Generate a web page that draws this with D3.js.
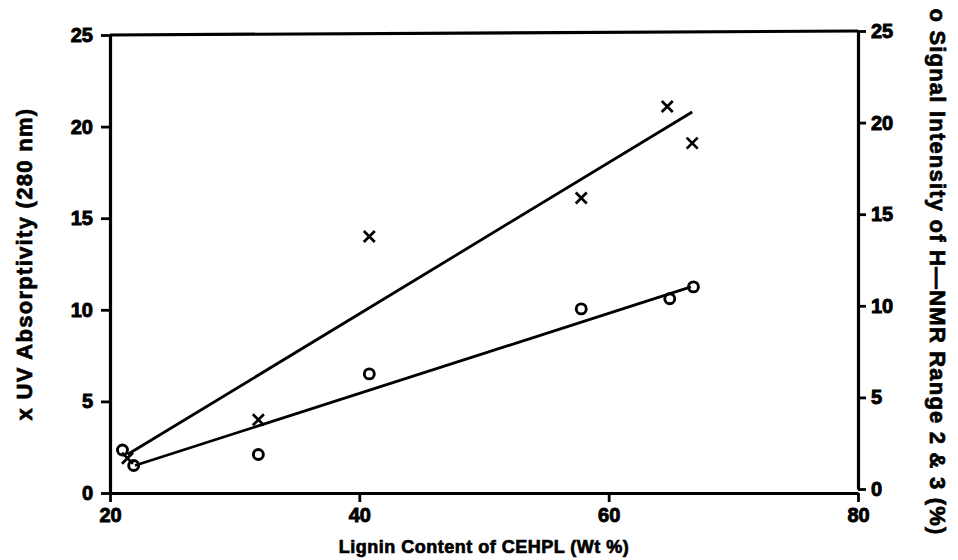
<!DOCTYPE html>
<html>
<head>
<meta charset="utf-8">
<script src="https://cdn.jsdelivr.net/npm/d3@7"></script>
<style>
  body { margin: 0; background: #fff; }
  svg { display: block; }
  text { font-family: "Liberation Sans", Arial, sans-serif; font-weight: bold; fill: #000; stroke: #000; stroke-width: 0.7px; }
</style>
</head>
<body>
<svg class="chart"></svg>
<script>
// UV absorptivity (x markers)
var uvLignin = [21.4, 31.9, 40.8, 57.8, 64.7, 66.7];
var uvValues = [1.9, 4.0, 14.0, 16.1, 21.1, 19.1];
// NMR signal intensity (o markers)
var nmrLignin = [21.0, 21.9, 31.9, 40.8, 57.8, 64.9, 66.8];
var nmrValues = [2.35, 1.5, 2.1, 6.5, 10.05, 10.6, 11.25];
// fitted lines, end points
var uvFitX = [21.4, 66.7];
var uvFitY = [2.1, 20.8];
var nmrFitX = [22.0, 66.6];
var nmrFitY = [1.5, 11.25];
var xTicks = [20, 40, 60, 80];
var yTicks = [0, 5, 10, 15, 20, 25];

function show() {
    'use strict';
    var margin = {top: 35, bottom: 67, right: 100, left: 110},
        width = 958 - margin.left - margin.right,
        height = 560 - margin.top - margin.bottom;

    var svg = d3.select(".chart")
        .attr("width", 958)
        .attr("height", 560)
        .append("g")
        .attr("transform", "translate(" + margin.left + "," + margin.top + ")");

    var x = d3.scaleLinear().domain([20, 80]).range([0, width]);
    var y = d3.scaleLinear().domain([0, 25]).range([height, 0]);
    var y2 = d3.scaleLinear().domain([0, 25]).range([height - 4, -4]);

    function styleAxis(g) {
        g.select(".domain").attr("stroke", "#000").attr("stroke-width", 3.2);
        g.selectAll(".tick line").attr("stroke", "#000").attr("stroke-width", 2.8);
        g.selectAll(".tick text")
            .style("font-size", "20px")
            .style("font-weight", "bold")
            .style("font-family", "'Liberation Sans', Arial, sans-serif")
            .style("stroke", "#000")
            .style("stroke-width", "0.9px");
    }

    svg.append("g")
        .attr("transform", "translate(0," + height + ")")
        .call(d3.axisBottom(x).tickValues(xTicks).tickSize(9).tickSizeOuter(0).tickPadding(6))
        .call(styleAxis);

    svg.append("g")
        .call(d3.axisLeft(y).tickValues(yTicks).tickSize(9).tickSizeOuter(0).tickPadding(8))
        .call(styleAxis);

    svg.append("g")
        .attr("transform", "translate(" + width + ",0)")
        .call(d3.axisRight(y2).tickValues(yTicks).tickSize(8).tickSizeOuter(0).tickPadding(5))
        .call(styleAxis);

    // top frame line
    svg.append("line")
        .attr("x1", x(20)).attr("x2", x(80))
        .attr("y1", y(25)).attr("y2", y(25) - 4)
        .attr("stroke", "#000").attr("stroke-width", 3.2);

    // fit lines
    var line = d3.line().x(function(d) { return x(d[0]); }).y(function(d) { return y(d[1]); });
    [d3.zip(uvFitX, uvFitY), d3.zip(nmrFitX, nmrFitY)].forEach(function(pts) {
        svg.append("path")
            .attr("d", line(pts))
            .attr("fill", "none")
            .attr("stroke", "#000")
            .attr("stroke-width", 2.8);
    });

    // x markers
    var s = 5.5;
    svg.append("g").selectAll("path")
        .data(d3.zip(uvLignin, uvValues))
        .enter().append("path")
        .attr("d", function(d) {
            var cx = x(d[0]), cy = y(d[1]);
            return "M" + (cx - s) + "," + (cy - s) + "L" + (cx + s) + "," + (cy + s) +
                   "M" + (cx - s) + "," + (cy + s) + "L" + (cx + s) + "," + (cy - s);
        })
        .attr("stroke", "#000")
        .attr("stroke-width", 2.7);

    // o markers
    svg.append("g").selectAll("circle")
        .data(d3.zip(nmrLignin, nmrValues))
        .enter().append("circle")
        .attr("cx", function(d) { return x(d[0]); })
        .attr("cy", function(d) { return y(d[1]); })
        .attr("r", 5)
        .attr("fill", "none")
        .attr("stroke", "#000")
        .attr("stroke-width", 2.9);

    // axis titles
    svg.append("text")
        .attr("x", width / 2)
        .attr("y", height + 60)
        .attr("text-anchor", "middle")
        .style("font-size", "18px")
        .style("letter-spacing", "0.5px")
        .text("Lignin Content of CEHPL (Wt %)");

    svg.append("text")
        .attr("transform", "translate(" + (-78) + "," + (height / 2) + ") rotate(-90)")
        .attr("text-anchor", "middle")
        .style("font-size", "22px")
        .style("letter-spacing", "1.3px")
        .text("x  UV Absorptivity (280 nm)");

    svg.append("text")
        .attr("transform", "translate(" + (width + 72) + "," + (height / 2 + 8) + ") rotate(90)")
        .attr("text-anchor", "middle")
        .style("font-size", "22px")
        .style("letter-spacing", "1.2px")
        .text("o  Signal Intensity of H\u2014NMR Range 2 & 3 (%)");
}
show();
</script>
</body>
</html>
